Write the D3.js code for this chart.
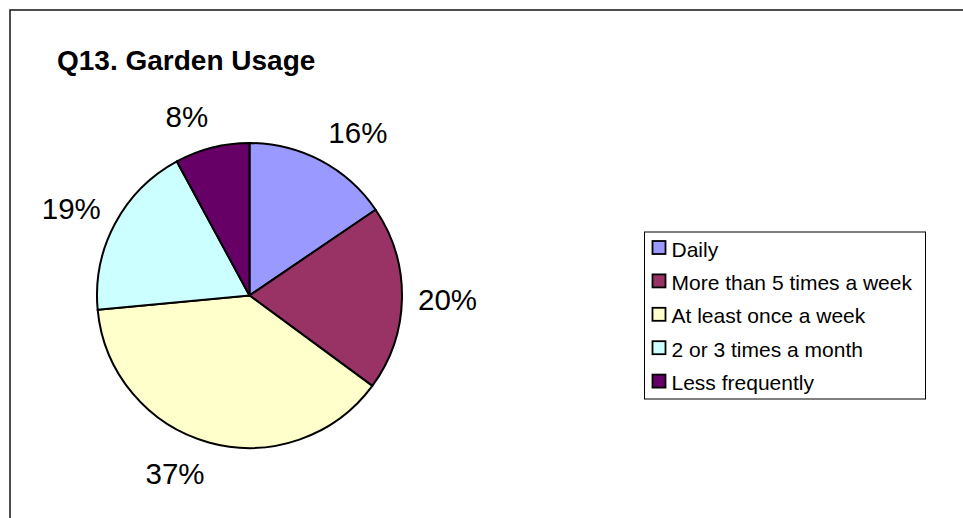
<!DOCTYPE html>
<html>
<head>
<meta charset="utf-8">
<script src="https://cdn.jsdelivr.net/npm/d3@7"></script>
<style>
  html, body { margin: 0; padding: 0; background: #fff; }
  svg { display: block; font-family: "Liberation Sans", Arial, sans-serif; }
</style>
</head>
<body>
<svg id="chart" width="963" height="518"></svg>
<script>
const title = "Q13. Garden Usage";
const categories = ["Daily", "More than 5 times a week", "At least once a week", "2 or 3 times a month", "Less frequently"];
const values = [15.5, 19.6, 38.4, 18.6, 7.9];
const valueLabels = ["16%", "20%", "37%", "19%", "8%"];
const colors = ["#9999FF", "#993366", "#FFFFCC", "#CCFFFF", "#660066"];

const svg = d3.select("#chart");

// outer chart border
svg.append("rect")
  .attr("x", 10).attr("y", 10).attr("width", 1000).attr("height", 600)
  .attr("fill", "none").attr("stroke", "#222").attr("stroke-width", 1.6);

svg.append("text")
  .attr("x", 57).attr("y", 69.5)
  .attr("font-size", 28).attr("font-weight", "bold").attr("fill", "#000")
  .text(title);

const cx = 249.5, cy = 295.5, r = 152.5;
const data = categories.map((c, i) => ({ cat: c, value: values[i], label: valueLabels[i], color: colors[i] }));

const pie = d3.pie().value(d => d.value).sort(null);
const arc = d3.arc().innerRadius(0).outerRadius(r);
const arcs = pie(data);

const g = svg.append("g").attr("transform", `translate(${cx},${cy})`);
g.selectAll("path").data(arcs).enter().append("path")
  .attr("d", arc)
  .attr("fill", d => d.data.color)
  .attr("stroke", "#000").attr("stroke-width", 2).attr("stroke-linejoin", "round");

// labels placed outside end, box offset away from the pie along x
const labelR = r + 16;
g.selectAll("text.lbl").data(arcs).enter().append("text")
  .attr("class", "lbl")
  .attr("text-anchor", "middle")
  .attr("dy", "0.36em")
  .attr("font-size", 29.5).attr("fill", "#000")
  .text(d => d.data.label)
  .each(function (d) {
    const a = (d.startAngle + d.endAngle) / 2;
    const w = this.getComputedTextLength();
    const s = Math.sin(a), c = Math.cos(a);
    const x = labelR * s + Math.sign(s) * w / 2;
    const y = -c * (labelR + 16.5);
    d3.select(this).attr("x", x).attr("y", y);
  });

// legend
const lx = 644.5, ly = 232, lw = 281, lh = 167, rowH = 33.4;
const legend = svg.append("g");
legend.append("rect")
  .attr("x", lx).attr("y", ly).attr("width", lw).attr("height", lh)
  .attr("fill", "#fff").attr("stroke", "#000").attr("stroke-width", 1);
const rows = legend.selectAll("g.row").data(data).enter().append("g")
  .attr("class", "row")
  .attr("transform", (d, i) => `translate(${lx + 8},${ly + 9 + i * rowH})`);
rows.append("rect")
  .attr("x", 0).attr("y", 0).attr("width", 13).attr("height", 13)
  .attr("fill", d => d.color).attr("stroke", "#000").attr("stroke-width", 1.8);
rows.append("text")
  .attr("x", 19).attr("y", 15.5)
  .attr("font-size", 21).attr("fill", "#000")
  .text(d => d.cat);
</script>
</body>
</html>
